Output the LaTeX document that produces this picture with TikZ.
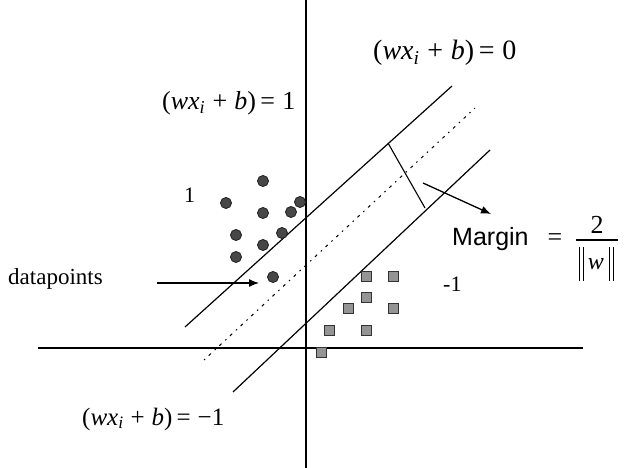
\documentclass[tikz,border=0pt]{standalone}
\usepackage{fontspec}
\setmainfont{Liberation Serif}
\newfontfamily\marginfont{Liberation Sans}
\usetikzlibrary{arrows.meta}
\definecolor{dotgray}{rgb}{.28,.28,.28}
\definecolor{boxgray}{rgb}{.58,.58,.58}

\newcommand{\hyp}[1]{(\textit{wx}\textsubscript{\textit{i}}\;+\;\textit{b})\,=\;#1}

\begin{document}
\begin{tikzpicture}[x=1pt,y=-1pt,
  posdot/.style={circle,draw=black!85,fill=dotgray,line width=.9pt,minimum size=11pt,inner sep=0pt},
  negbox/.style={rectangle,draw=black!80,fill=boxgray,line width=1pt,minimum size=10pt,inner sep=0pt},
  lbl/.style={font=\fontsize{28}{30}\selectfont,inner sep=0pt,anchor=base west}]
\useasboundingbox (0,0) rectangle (625,468);

% axes
\coordinate (yb) at (306,468);
\coordinate (yt) at (306,0);
\coordinate (xl) at (38,348);
\coordinate (xr) at (583,348);
\draw[line width=1.5pt] (yb) -- (yt);
\draw[line width=1.5pt] (xl) -- (xr);

% hyperplanes
\coordinate (up1) at (185,327);
\coordinate (up2) at (452,86);
\coordinate (md1) at (204,360);
\coordinate (md2) at (475,108);
\coordinate (lo1) at (233,392);
\coordinate (lo2) at (490,150);
\draw[line width=1.2pt] (up1) -- (up2);
\draw[line width=1.2pt] (lo1) -- (lo2);
\draw[line width=1pt,dash pattern=on 1.5pt off 5pt on 3pt off 5pt] (md1) -- (md2);

% margin
\coordinate (mg1) at (388,143);
\coordinate (mg2) at (425,208);
\draw[line width=1.1pt] (mg1) -- (mg2);

% class 1
\foreach \x/\y [count=\i] in {263/181,226/203,263/213,291/212,300/202,236/235,282/233,263/245,236/257,273/277}
  \node[posdot] (p\i) at (\x,\y) {};

% class -1
\foreach \x/\y [count=\i] in {366/277,393/277,366/298,348/309,393/309,329/331,366/331,321/353}
  \node[negbox] (n\i) at (\x,\y) {};

% labels
\node[lbl] (eq0) at (373,60) {\hyp{0}};
\node[lbl,font=\fontsize{26}{30}\selectfont] (eq1) at (162,110) {\hyp{1}};
\node[lbl,font=\fontsize{25}{30}\selectfont] (eqm) at (82,425) {\hyp{\textminus 1}};
\node[lbl,font=\fontsize{22}{24}\selectfont] (one) at (184,203) {1};
\node[lbl,font=\fontsize{22}{24}\selectfont] (mone) at (443,292) {-1};
\node[lbl,font=\fontsize{23}{26}\selectfont] (dp) at (8,285) {datapoints};
\node[lbl,font=\fontsize{25}{28}\selectfont\marginfont] (mg) at (452,246) {Margin};

% 2 / ||w||
\node[inner sep=0pt,font=\fontsize{26}{28}\selectfont] (eqs) at (555,240) {=};
\node[inner sep=0pt,font=\fontsize{26}{28}\selectfont] (two) at (597,225) {2};
\node[inner sep=0pt,font=\fontsize{24}{28}\selectfont\itshape] (wn) at (596,264) {w};
\coordinate (fb1) at (576,240);
\coordinate (fb2) at (618,240);
\draw[line width=1.1pt] (fb1) -- (fb2);
\foreach \bx in {579,583,609,613}
  \draw[line width=1pt] (\bx,247) -- (\bx,281);

% arrows
\coordinate (dpA) at (157,283);
\coordinate (dpB) at (259,283);
\draw[-{Latex[length=10pt,width=8pt]},line width=1.3pt] (dpA) -- (dpB);
\coordinate (mgA) at (423,183);
\coordinate (mgB) at (491,214);
\draw[-{Latex[length=10pt,width=8pt]},line width=1.3pt] (mgA) -- (mgB);

\end{tikzpicture}
\end{document}
